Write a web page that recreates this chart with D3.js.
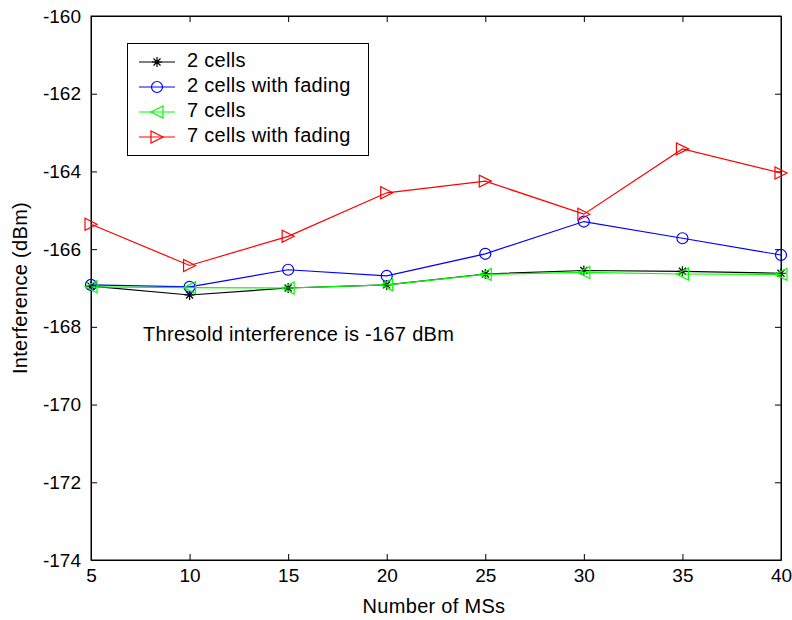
<!DOCTYPE html>
<html><head><meta charset="utf-8">
<script src="https://cdn.jsdelivr.net/npm/d3@7"></script>
<style>body{margin:0;background:#fff}svg{display:block}text{font-family:"Liberation Sans",Arial,sans-serif}</style>
</head><body><svg id="c" width="792" height="620"></svg>
<script>
const xValues = [5, 10, 15, 20, 25, 30, 35, 40];
const cells2 = [-166.95, -167.18, -167.0, -166.92, -166.64, -166.55, -166.57, -166.62];
const cells2Fading = [-166.92, -166.97, -166.53, -166.69, -166.12, -165.29, -165.72, -166.15];
const cells7 = [-166.97, -166.99, -167.0, -166.92, -166.65, -166.6, -166.64, -166.65];
const cells7Fading = [-165.36, -166.42, -165.67, -164.55, -164.25, -165.1, -163.42, -164.04];
const seriesNames = ["2 cells", "2 cells with fading", "7 cells", "7 cells with fading"];
const xTicks = [5, 10, 15, 20, 25, 30, 35, 40];
const yTicks = [-160, -162, -164, -166, -168, -170, -172, -174];
const annotation = "Thresold interference is -167 dBm";

const svg = d3.select("#c");
const L = 91, R = 781, T = 16, B = 560;
const x = d3.scaleLinear().domain([5, 40]).range([L, R]);
const y = d3.scaleLinear().domain([-174, -160]).range([B, T]);

svg.append("rect").attr("x", L).attr("y", T).attr("width", R - L).attr("height", B - T)
  .attr("fill", "#fff").attr("stroke", "#000").attr("stroke-width", 1);

const tickFs = "19px", labFs = "20px", ls = "0.3px";
const fmt = d => String(d);
const gB = svg.append("g").attr("transform", `translate(0,${B})`)
  .call(d3.axisBottom(x).tickValues(xTicks).tickFormat(fmt).tickSizeInner(-6).tickSizeOuter(0).tickPadding(9));
const gT = svg.append("g").attr("transform", `translate(0,${T})`)
  .call(d3.axisTop(x).tickValues(xTicks).tickSizeInner(-6).tickSizeOuter(0).tickFormat(""));
const gL = svg.append("g").attr("transform", `translate(${L},0)`)
  .call(d3.axisLeft(y).tickValues(yTicks).tickFormat(fmt).tickSizeInner(-6).tickSizeOuter(0).tickPadding(10));
const gR = svg.append("g").attr("transform", `translate(${R},0)`)
  .call(d3.axisRight(y).tickValues(yTicks).tickSizeInner(-6).tickSizeOuter(0).tickFormat(""));
[gB, gT, gL, gR].forEach(g => {
  g.select(".domain").attr("stroke", "#000");
  g.selectAll("line").attr("stroke", "#000");
  g.selectAll("text").attr("font-size", tickFs).attr("fill", "#000")
    .attr("font-family", '"Liberation Sans",Arial,sans-serif');
});
gB.selectAll("text").attr("dy", "0.71em");

svg.append("text").attr("x", 434).attr("y", 613).attr("text-anchor", "middle")
  .attr("font-size", labFs).attr("letter-spacing", ls).text("Number of MSs");
svg.append("text").attr("transform", `translate(27,${(T + B) / 2}) rotate(-90)`)
  .attr("text-anchor", "middle").attr("font-size", labFs).attr("letter-spacing", ls).text("Interference (dBm)");

const series = [
  {name: seriesNames[0], data: cells2, color: "#000", marker: "star"},
  {name: seriesNames[1], data: cells2Fading, color: "#0000ff", marker: "circle"},
  {name: seriesNames[2], data: cells7, color: "#00ff00", marker: "tri-left"},
  {name: seriesNames[3], data: cells7Fading, color: "#ff0000", marker: "tri-right"}
];

function drawMarker(g, type, cx, cy, color) {
  if (type === "star") {
    const s = 5;
    const p = `M${cx - s},${cy}L${cx + s},${cy}M${cx},${cy - s}L${cx},${cy + s}` +
      `M${cx - s * 0.7},${cy - s * 0.7}L${cx + s * 0.7},${cy + s * 0.7}M${cx - s * 0.7},${cy + s * 0.7}L${cx + s * 0.7},${cy - s * 0.7}`;
    g.append("path").attr("d", p).attr("stroke", color).attr("stroke-width", 1.2).attr("fill", "none");
  } else if (type === "circle") {
    g.append("circle").attr("cx", cx).attr("cy", cy).attr("r", 5.5)
      .attr("stroke", color).attr("stroke-width", 1.2).attr("fill", "none");
  } else if (type === "tri-left") {
    const s = 6;
    g.append("path").attr("d", `M${cx - s},${cy}L${cx + s},${cy - s}L${cx + s},${cy + s}Z`)
      .attr("stroke", color).attr("stroke-width", 1.2).attr("fill", "none");
  } else {
    const s = 6;
    g.append("path").attr("d", `M${cx + s},${cy}L${cx - s},${cy - s}L${cx - s},${cy + s}Z`)
      .attr("stroke", color).attr("stroke-width", 1.2).attr("fill", "none");
  }
}

const line = d3.line().x((d, i) => x(xValues[i])).y(d => y(d));
series.forEach(s => {
  const g = svg.append("g");
  g.append("path").datum(s.data).attr("d", line).attr("fill", "none")
    .attr("stroke", s.color).attr("stroke-width", 1.2);
  s.data.forEach((d, i) => drawMarker(g, s.marker, x(xValues[i]), y(d), s.color));
});

svg.append("text").attr("x", 143).attr("y", 341).attr("font-size", labFs).attr("letter-spacing", ls).text(annotation);

// legend
const lg = svg.append("g");
lg.append("rect").attr("x", 127.5).attr("y", 43.5).attr("width", 241).attr("height", 112)
  .attr("fill", "#fff").attr("stroke", "#000");
series.forEach((s, i) => {
  const ry = 62 + i * 25;
  lg.append("line").attr("x1", 139).attr("x2", 175).attr("y1", ry).attr("y2", ry)
    .attr("stroke", s.color).attr("stroke-width", 1.2);
  drawMarker(lg, s.marker, 157, ry, s.color);
  lg.append("text").attr("x", 187).attr("y", ry + 5).attr("font-size", labFs)
    .attr("letter-spacing", ls).text(s.name);
});
</script></body></html>
